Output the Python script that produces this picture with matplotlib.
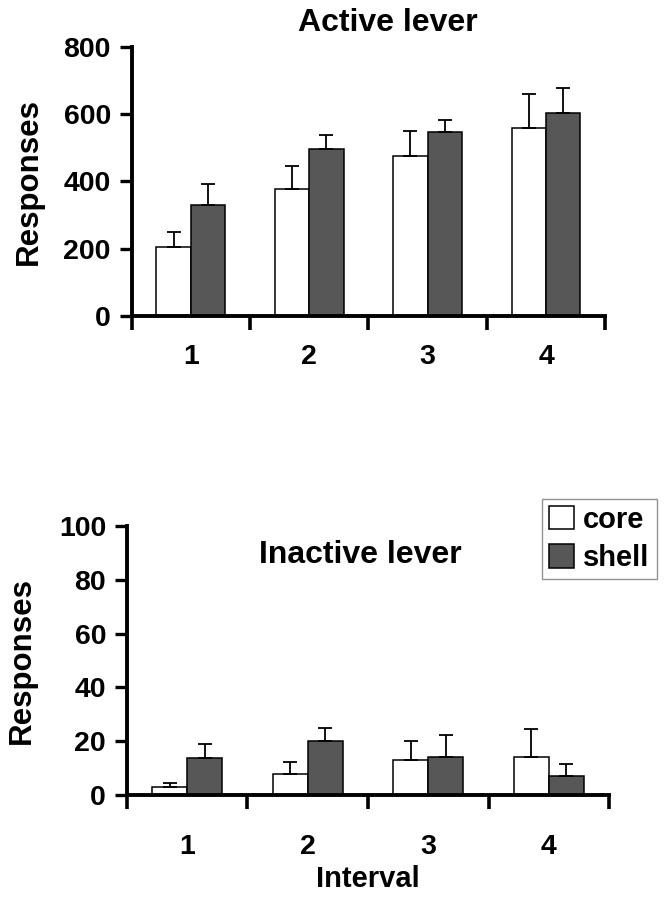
import numpy as np
import matplotlib
matplotlib.use('Agg')
import matplotlib.pyplot as plt

plt.rcParams['font.family'] = ['Liberation Sans', 'DejaVu Sans']
plt.rcParams['font.weight'] = 'bold'

# Datos
intervalos = ['1', '2', '3', '4']
grupos = ['core', 'shell']

activa_core = [204, 377, 474, 558]
activa_core_sem = [45, 69, 76, 101]
activa_shell = [330, 496, 548, 603]
activa_shell_sem = [62, 41, 33, 74]

inactiva_core = [2.9, 7.8, 13.0, 14.1]
inactiva_core_sem = [1.7, 4.6, 7.0, 10.3]
inactiva_shell = [13.6, 20.2, 14.2, 7.1]
inactiva_shell_sem = [5.5, 4.7, 8.0, 4.5]

COLOR_SHELL = '#575757'
ANCHO = 0.29


def dibujar_barras(ax, core, core_sem, shell, shell_sem, ymax, yticks, pad_x, pad_y):
    x = np.arange(1, len(intervalos) + 1)
    b1 = ax.bar(x - ANCHO / 2, core, ANCHO, color='white', edgecolor='black',
                linewidth=1.1, zorder=2, label=grupos[0])
    b2 = ax.bar(x + ANCHO / 2, shell, ANCHO, color=COLOR_SHELL, edgecolor='black',
                linewidth=1.1, zorder=2, label=grupos[1])
    ax.errorbar(x - ANCHO / 2, core, yerr=[np.zeros(len(core)), core_sem], fmt='none',
                ecolor='black', elinewidth=1.3, capsize=5, capthick=1.3, zorder=3)
    ax.errorbar(x + ANCHO / 2, shell, yerr=[np.zeros(len(shell)), shell_sem], fmt='none',
                ecolor='black', elinewidth=1.3, capsize=5, capthick=1.3, zorder=3)

    ax.set_xlim(0.5, len(intervalos) + 0.5)
    ax.set_ylim(0, ymax)
    ax.set_yticks(yticks)
    ax.set_xticks(x)
    ax.set_xticklabels(intervalos)
    ax.set_xticks(np.arange(0.5, len(intervalos) + 1), minor=True)

    for s in ['top', 'right']:
        ax.spines[s].set_visible(False)
    for s in ['left', 'bottom']:
        ax.spines[s].set_linewidth(2.8)

    ax.tick_params(axis='y', which='major', length=9, width=2.4, pad=6, labelsize=20.5)
    ax.tick_params(axis='x', which='major', length=0, pad=pad_x, labelsize=20.5)
    ax.tick_params(axis='x', which='minor', length=10, width=2.6)
    ax.set_ylabel('Responses', fontsize=22.5, fontweight='bold', labelpad=pad_y)
    return b1, b2


fig = plt.figure(figsize=(6.68, 9), dpi=100)

ax1 = fig.add_axes([0.197, 0.649, 0.709, 0.299])
dibujar_barras(ax1, activa_core, activa_core_sem, activa_shell, activa_shell_sem,
               800, [0, 200, 400, 600, 800], 20, 14)
fig.text(0.58, 0.974, 'Active lever', ha='center', va='center', fontsize=23, fontweight='bold')

ax2 = fig.add_axes([0.190, 0.1167, 0.722, 0.299])
b1, b2 = dibujar_barras(ax2, inactiva_core, inactiva_core_sem, inactiva_shell, inactiva_shell_sem,
                        100, [0, 20, 40, 60, 80, 100], 28, 16)
fig.text(0.54, 0.383, 'Inactive lever', ha='center', va='center', fontsize=23, fontweight='bold')
ax2.set_xlabel('Interval', fontsize=21, fontweight='bold', labelpad=4)

leg = fig.legend(handles=[b1, b2], loc='upper right', bbox_to_anchor=(0.983, 0.446),
                 bbox_transform=fig.transFigure, fontsize=21, frameon=True, fancybox=False,
                 handlelength=0.85, handleheight=0.85, handletextpad=0.3, borderpad=0.25,
                 labelspacing=0.35, borderaxespad=0)
leg.get_frame().set_edgecolor('#777777')
leg.get_frame().set_linewidth(1.0)

fig.savefig('out.png', dpi=100)
